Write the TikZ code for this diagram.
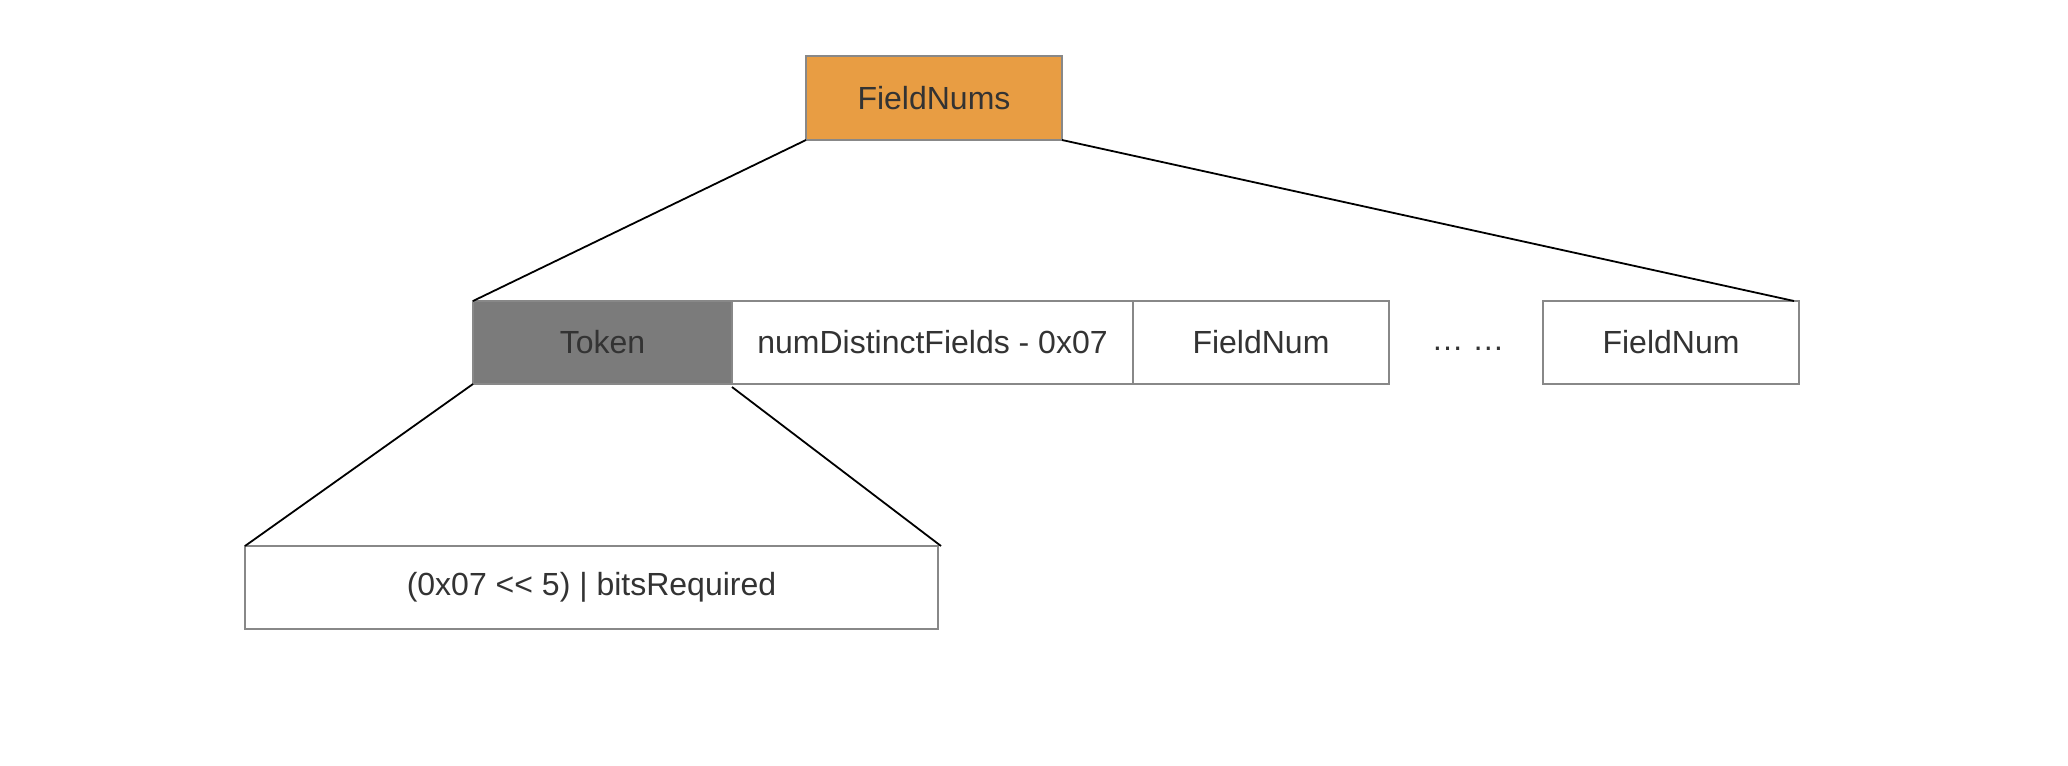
\documentclass[tikz,border=0pt]{standalone}
\usepackage{fontspec}
\setmainfont{Liberation Sans}
\definecolor{boxline}{HTML}{888888}
\definecolor{txt}{HTML}{333333}
\definecolor{orangefill}{HTML}{E89D43}
\definecolor{tokenfill}{HTML}{7B7B7B}
\begin{document}
\begin{tikzpicture}[x=0.5pt,y=-0.5pt,
  box/.style={draw=boxline, line width=1pt, inner sep=0pt, outer sep=0pt,
    minimum height=41.5pt, text=txt, font=\fontsize{16}{19}\selectfont},
  conn/.style={draw=black, line width=0.9pt}]
\useasboundingbox[fill=white] (0,0) rectangle (2068,766);
\node[box, fill=orangefill, minimum width=128pt, minimum height=42pt] (fns) at (934,98) {FieldNums};
\node[box, fill=tokenfill, minimum width=129.5pt] (tok) at (602.5,342.5) {Token};
\node[box, fill=white, minimum width=200.5pt] (ndf) at (932.5,342.5) {numDistinctFields - 0x07};
\node[box, fill=white, minimum width=128pt] (fn1) at (1261,342.5) {FieldNum};
\node[text=txt, inner sep=0pt, font=\fontsize{16}{19}\selectfont] (dots) at (1468,343) {\vphantom{Fg}… …};
\node[box, fill=white, minimum width=128pt] (fn2) at (1671,342.5) {FieldNum};
\node[box, fill=white, minimum width=346.5pt] (bits) at (591.5,587.5) {(0x07 <{}< 5) | bitsRequired};
\coordinate (fn2top) at ([xshift=-2.5pt]fn2.north east);
\draw[conn] (fns.south west) -- (tok.north west);
\draw[conn] (fns.south east) -- (fn2top);
\draw[conn] (tok.south west) -- (bits.north west);
\draw[conn] ([yshift=-1.5pt]tok.south east) -- ([xshift=1.5pt]bits.north east);
\end{tikzpicture}
\end{document}
